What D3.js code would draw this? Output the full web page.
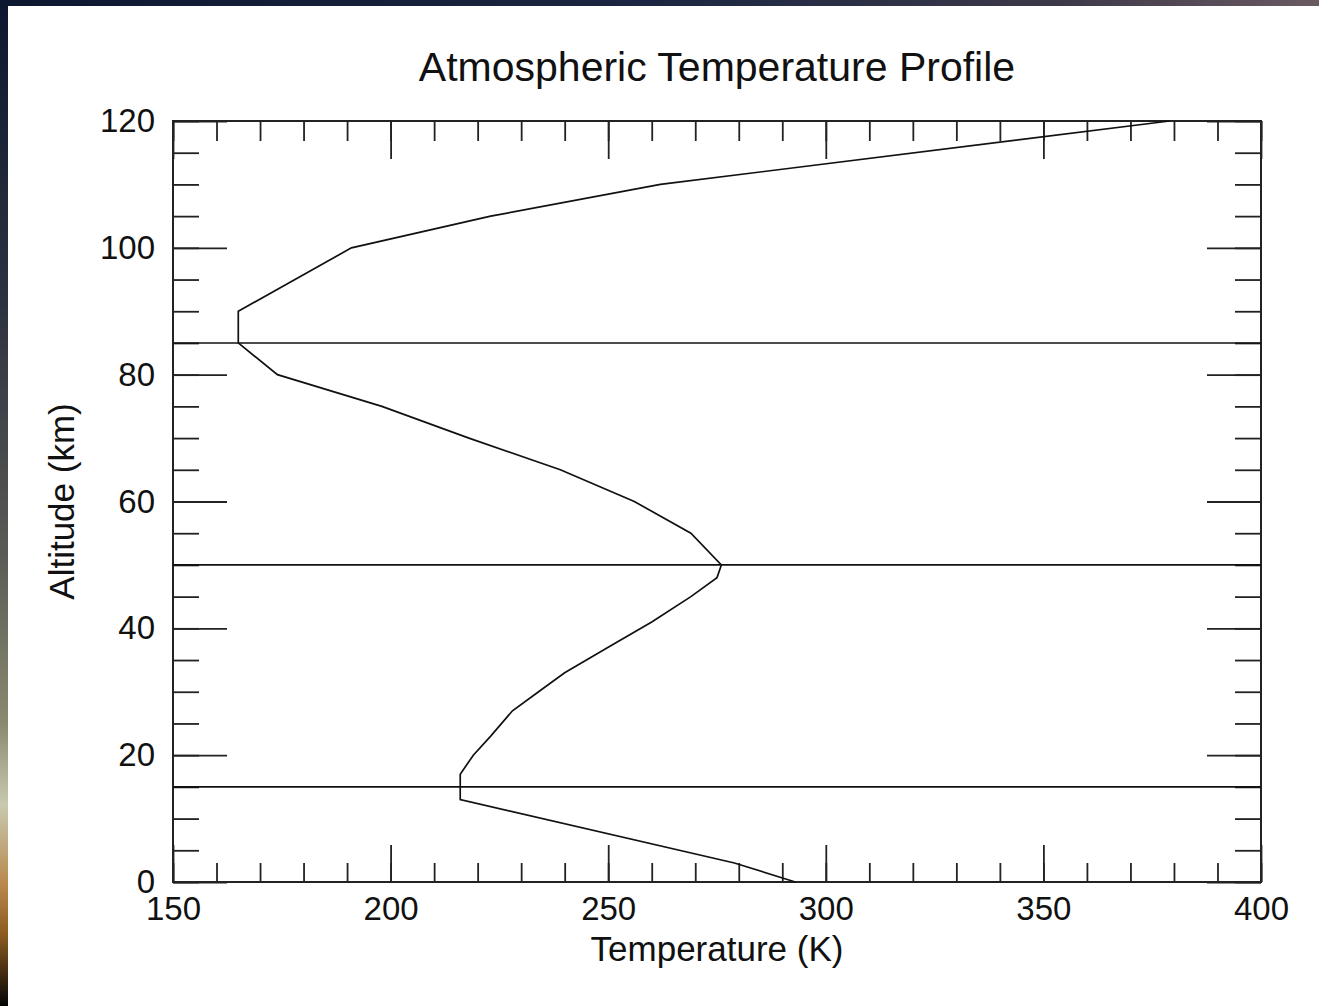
<!DOCTYPE html>
<html>
<head>
<meta charset="utf-8">
<script src="https://cdn.jsdelivr.net/npm/d3@7"></script>
<style>
  body { margin: 0; overflow: hidden; }
  text { font-family: "Liberation Sans", Arial, sans-serif; fill: #111; }
</style>
</head>
<body>
<div id="chart"></div>
<script>
// profile: altitude (km) and temperature (K)
const altitude = [0, 3, 13, 17, 20, 23, 27, 30, 33, 37, 41, 45, 48, 50, 55, 60, 65, 70, 75, 80, 85, 90, 100, 105, 110, 120];
const temperature = [293, 279, 216, 216, 219, 223, 228, 234, 240, 250, 260, 269, 275, 276, 269, 256, 239, 218, 198, 174, 165, 165, 191, 223, 262, 379];
// tropopause, stratopause, mesopause
const boundaries = [15, 50, 85];
const xTicks = [150, 200, 250, 300, 350, 400];
const yTicks = [0, 20, 40, 60, 80, 100, 120];

const width = 1319;
const height = 1006;
const margin = { top: 121, right: 58, bottom: 124, left: 173 };
const plotW = width - margin.left - margin.right;
const plotH = height - margin.top - margin.bottom;

const svg = d3.select("#chart").append("svg")
    .attr("width", width)
    .attr("height", height);

// photo-ish frame around the white page
const defs = svg.append("defs");
const topGrad = defs.append("linearGradient").attr("id", "topGrad");
[["0%", "#0c1830"], ["50%", "#1b2742"], ["80%", "#3c3848"], ["100%", "#6a5a62"]]
    .forEach(s => topGrad.append("stop").attr("offset", s[0]).attr("stop-color", s[1]));
const leftGrad = defs.append("linearGradient").attr("id", "leftGrad")
    .attr("x1", 0).attr("x2", 0).attr("y1", 0).attr("y2", 1);
[["0%", "#0c1830"], ["30%", "#2c3240"], ["55%", "#5a5a55"], ["72%", "#8a8a70"], ["80%", "#c8cab0"], ["88%", "#b8874a"], ["93%", "#8a5a20"], ["100%", "#050505"]]
    .forEach(s => leftGrad.append("stop").attr("offset", s[0]).attr("stop-color", s[1]));

svg.append("rect").attr("width", width).attr("height", height).attr("fill", "#fff");
svg.append("rect").attr("width", width).attr("height", 6).attr("fill", "url(#topGrad)");
svg.append("rect").attr("width", 8).attr("height", height).attr("fill", "url(#leftGrad)");

const x = d3.scaleLinear().domain([150, 400]).range([0, plotW]);
const y = d3.scaleLinear().domain([0, 120]).range([plotH, 0]);

const g = svg.append("g").attr("transform", `translate(${margin.left},${margin.top})`);

const fontSize = 33;
const xMinor = d3.range(150, 401, 10);
const yMinor = d3.range(0, 121, 5);

function styleAxis(sel) {
    sel.select(".domain").remove();
    sel.selectAll("line").attr("stroke", "#222").attr("stroke-width", 1.8);
    sel.selectAll("text").style("font-size", fontSize + "px").attr("fill", "#111");
}

// bottom axis: labels + inward ticks
g.append("g").attr("transform", `translate(0,${plotH})`)
    .call(d3.axisBottom(x).tickValues(xMinor).tickSize(-19).tickFormat(""))
    .call(styleAxis);
g.append("g").attr("transform", `translate(0,${plotH})`)
    .call(d3.axisBottom(x).tickValues(xTicks).tickSize(-37).tickPadding(15).tickFormat(d3.format("d")))
    .call(styleAxis);
// top axis
g.append("g")
    .call(d3.axisTop(x).tickValues(xMinor).tickSize(-20).tickFormat(""))
    .call(styleAxis);
g.append("g")
    .call(d3.axisTop(x).tickValues(xTicks).tickSize(-38).tickFormat(""))
    .call(styleAxis);
// left axis
g.append("g")
    .call(d3.axisLeft(y).tickValues(yMinor).tickSize(-26).tickFormat(""))
    .call(styleAxis);
g.append("g")
    .call(d3.axisLeft(y).tickValues(yTicks).tickSize(-54).tickPadding(18).tickFormat(d3.format("d")))
    .call(styleAxis);
// right axis
g.append("g").attr("transform", `translate(${plotW},0)`)
    .call(d3.axisRight(y).tickValues(yMinor).tickSize(-26).tickFormat(""))
    .call(styleAxis);
g.append("g").attr("transform", `translate(${plotW},0)`)
    .call(d3.axisRight(y).tickValues(yTicks).tickSize(-54).tickFormat(""))
    .call(styleAxis);

// plot box
g.append("rect")
    .attr("width", plotW).attr("height", plotH)
    .attr("fill", "none").attr("stroke", "#222").attr("stroke-width", 2);

// layer boundaries
g.selectAll(".boundary").data(boundaries).enter().append("line")
    .attr("class", "boundary")
    .attr("x1", 0).attr("x2", plotW)
    .attr("y1", d => y(d)).attr("y2", d => y(d))
    .attr("stroke", "#111").attr("stroke-width", 1.6);

// temperature profile
const profile = altitude.map((a, i) => ({ alt: a, temp: temperature[i] }));
const line = d3.line().x(d => x(d.temp)).y(d => y(d.alt));
g.append("path").datum(profile)
    .attr("d", line)
    .attr("fill", "none")
    .attr("stroke", "#111")
    .attr("stroke-width", 1.7);

// titles
svg.append("text")
    .attr("x", margin.left + plotW / 2).attr("y", 81)
    .attr("text-anchor", "middle")
    .style("font-size", "41px")
    .text("Atmospheric Temperature Profile");

svg.append("text")
    .attr("x", margin.left + plotW / 2).attr("y", 961)
    .attr("text-anchor", "middle")
    .style("font-size", "35px")
    .text("Temperature (K)");

svg.append("text")
    .attr("transform", `translate(74,${margin.top + plotH / 2}) rotate(-90)`)
    .attr("text-anchor", "middle")
    .style("font-size", "35px")
    .text("Altitude (km)");
</script>
</body>
</html>
